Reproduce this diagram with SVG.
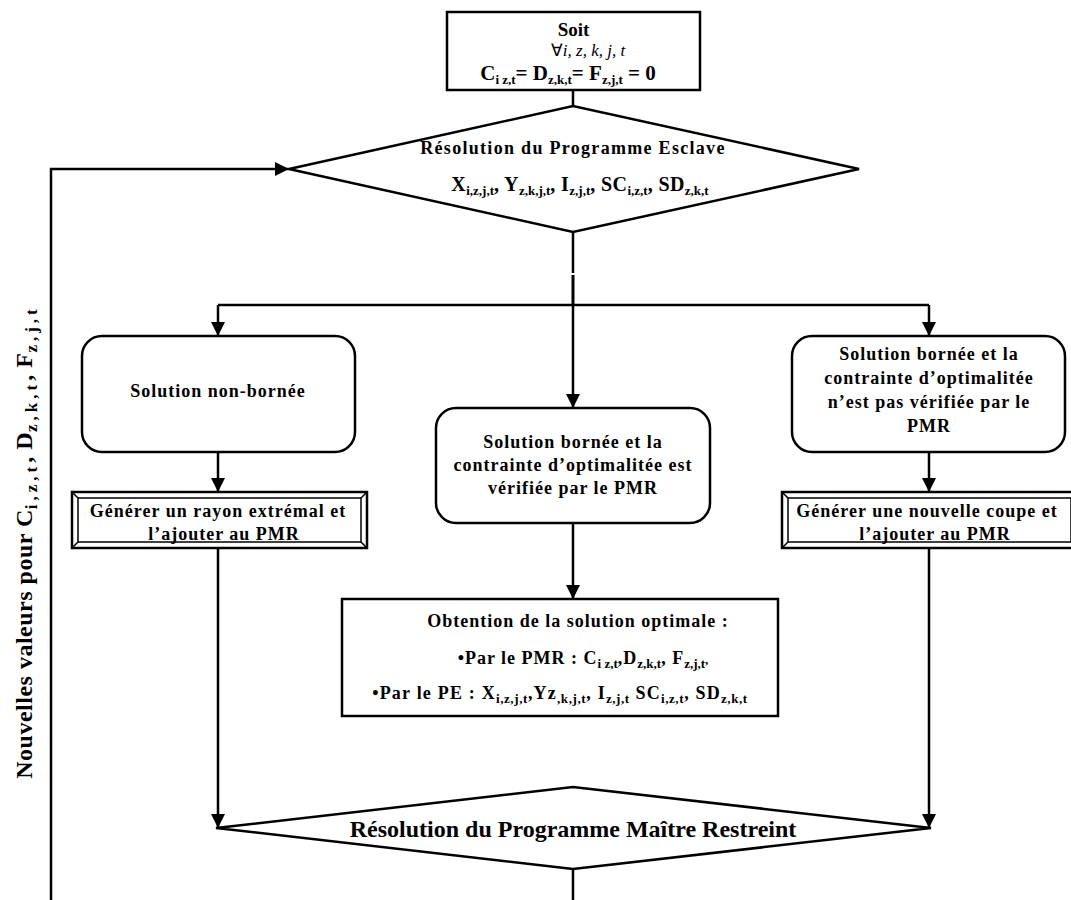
<svg xmlns="http://www.w3.org/2000/svg" width="1071" height="900" viewBox="0 0 1071 900">
<defs>
<marker id="arr" markerWidth="14" markerHeight="14" refX="14" refY="7" orient="auto" markerUnits="userSpaceOnUse"><path d="M0,0 L14,7 L0,14 z" fill="#000"/></marker>
</defs>
<style>
.t{font-family:"Liberation Serif","Times New Roman",serif;font-weight:bold;fill:#000;text-anchor:middle}
.b{font-size:18px;letter-spacing:1px}
.s{font-size:13px;letter-spacing:0}
.vs{font-size:17px;letter-spacing:4px}
.shape{fill:#fff;stroke:#000;stroke-width:2.5}
.inner{fill:none;stroke:#000;stroke-width:1.5}
.ln{fill:none;stroke:#000;stroke-width:2.5}
.ar{marker-end:url(#arr)}
</style>
<rect width="1071" height="900" fill="#fff"/>

<g id="connectors">
<path class="ln" d="M573,90 V106"/>
<path class="ln" d="M573,232 V273"/>
<path class="ln" d="M573,275 V305" style="stroke-width:3"/>
<path class="ln" d="M218,305 H929"/>
<path class="ln ar" d="M218,305 V336"/>
<path class="ln ar" d="M929,305 V336"/>
<path class="ln ar" d="M573,305 V408"/>
<path class="ln ar" d="M218,452 V492"/>
<path class="ln ar" d="M929,452 V492"/>
<path class="ln ar" d="M573,523 V599"/>
<path class="ln ar" d="M218,548 V828"/>
<path class="ln ar" d="M929,548 V828"/>
<path class="ln" d="M573,869 V900"/>
<path class="ln ar" d="M51,900 V169 H289"/>
</g>

<g id="init">
<rect class="shape" x="447" y="12" width="253" height="78"/>
<text class="t" x="573.5" y="36" font-size="19">Soit</text>
<text x="588" y="56" font-size="17" text-anchor="middle" font-family="'Liberation Serif','Times New Roman',serif">∀<tspan font-style="italic">i, z, k, j, t</tspan></text>
<text class="t" x="568" y="80" font-size="21">C<tspan class="s" dy="4">i z,t</tspan><tspan dy="-4">= D</tspan><tspan class="s" dy="4">z,k,t</tspan><tspan dy="-4">= F</tspan><tspan class="s" dy="4">z,j,t</tspan><tspan dy="-4"> = 0</tspan></text>
</g>

<g id="slave">
<polygon class="shape" points="289,169 573,106 859,169 573,232"/>
<text class="t b" x="573" y="154" style="letter-spacing:1.3px">Résolution du Programme Esclave</text>
<text class="t" x="580" y="191" font-size="20" style="letter-spacing:0.4px">X<tspan class="s" dy="4">i,z,j,t</tspan><tspan dy="-4">, Y</tspan><tspan class="s" dy="4">z,k,j,t</tspan><tspan dy="-4">, I</tspan><tspan class="s" dy="4">z,j,t</tspan><tspan dy="-4">, SC</tspan><tspan class="s" dy="4">i,z,t</tspan><tspan dy="-4">, SD</tspan><tspan class="s" dy="4">z,k,t</tspan></text>
</g>

<g id="unbounded">
<rect class="shape" x="82" y="336" width="273" height="116" rx="20"/>
<text class="t b" x="218" y="397">Solution non-bornée</text>
</g>

<g id="ray">
<rect class="shape" x="72" y="492" width="295" height="56"/>
<rect class="inner" x="78" y="498" width="283" height="44"/>
<path class="inner" d="M72,492 L78,498 M367,492 L361,498 M72,548 L78,542 M367,548 L361,542"/>
<text class="t b" x="218" y="517">Générer un rayon extrémal et</text>
<text class="t b" x="224" y="540">l’ajouter au PMR</text>
</g>

<g id="bounded-ok">
<rect class="shape" x="436" y="408" width="274" height="115" rx="20"/>
<text class="t b" x="573" y="448">Solution bornée et la</text>
<text class="t b" x="573" y="471">contrainte d’optimalitée est</text>
<text class="t b" x="573" y="494">vérifiée par le PMR</text>
</g>

<g id="bounded-ko">
<rect class="shape" x="792" y="336" width="273" height="116" rx="20"/>
<text class="t b" x="929" y="360">Solution bornée et la</text>
<text class="t b" x="929" y="384">contrainte d’optimalitée</text>
<text class="t b" x="929" y="408">n’est pas vérifiée par le</text>
<text class="t b" x="929" y="432">PMR</text>
</g>

<g id="cut">
<rect class="shape" x="782" y="492" width="295" height="56"/>
<rect class="inner" x="788" y="498" width="283" height="44"/>
<path class="inner" d="M782,492 L788,498 M782,548 L788,542"/>
<text class="t b" x="927" y="517">Générer une nouvelle coupe et</text>
<text class="t b" x="935" y="540">l’ajouter au PMR</text>
</g>

<g id="optimal">
<rect class="shape" x="342" y="599" width="436" height="117"/>
<text class="t b" x="578" y="627">Obtention de la solution optimale :</text>
<text class="t b" x="583" y="664">•Par le PMR : C<tspan class="s" dy="4">i z,t</tspan><tspan dy="-4">,D</tspan><tspan class="s" dy="4">z,k,t</tspan><tspan dy="-4">, F</tspan><tspan class="s" dy="4">z,j,t</tspan><tspan class="s" dy="-4">,</tspan></text>
<text class="t b" x="560" y="699" style="letter-spacing:1.2px">•Par le PE : X<tspan class="s" dy="4" style="letter-spacing:0.6px">i,z,j,t</tspan><tspan dy="-4">,Yz</tspan><tspan class="s" dy="4" style="letter-spacing:0.6px">,k,j,t</tspan><tspan dy="-4">, I</tspan><tspan class="s" dy="4" style="letter-spacing:0.6px">z,j,t</tspan><tspan dy="-4"> SC</tspan><tspan class="s" dy="4" style="letter-spacing:0.6px">i,z,t</tspan><tspan dy="-4">, SD</tspan><tspan class="s" dy="4" style="letter-spacing:0.6px">z,k,t</tspan></text>
</g>

<g id="master">
<polygon class="shape" points="216,828 573,787 931,828 573,869"/>
<text class="t" x="573" y="837" font-size="24">Résolution du Programme Maître Restreint</text>
</g>

<g id="loop-label">
<text class="t" transform="translate(32,542) rotate(-90)" font-size="24" style="letter-spacing:0.5px">Nouvelles valeurs pour C<tspan class="vs" dy="5">i,z,t</tspan><tspan dy="-5">, D</tspan><tspan class="vs" dy="5">z,k,t</tspan><tspan dy="-5">, F</tspan><tspan class="vs" dy="5">z,j,t</tspan></text>
</g>
</svg>
